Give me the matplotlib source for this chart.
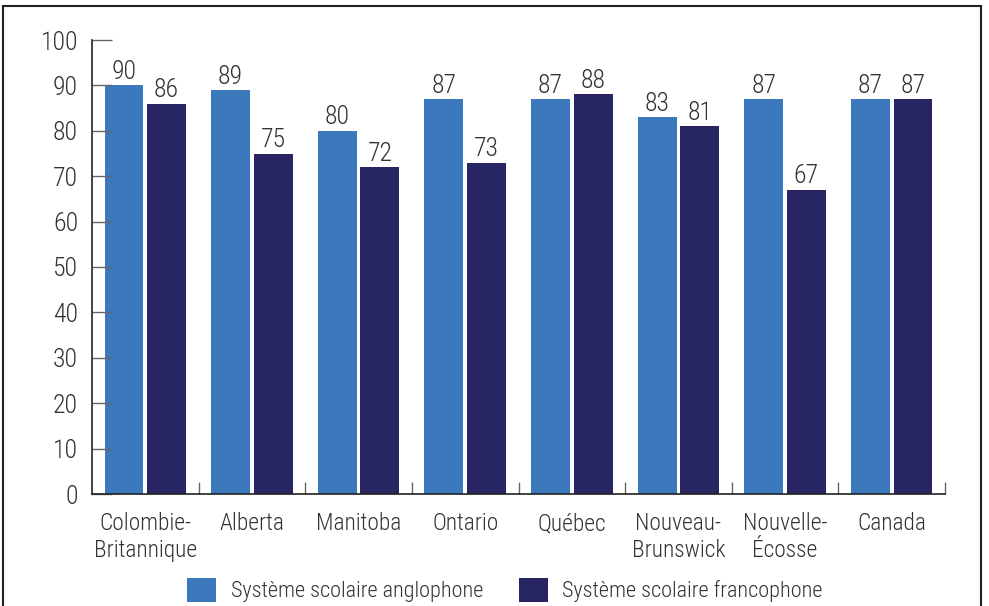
import numpy as np
import matplotlib.pyplot as plt
from matplotlib.patches import Rectangle

provinces = ["Colombie-\nBritannique", "Alberta", "Manitoba", "Ontario", "Québec",
             "Nouveau-\nBrunswick", "Nouvelle-\nÉcosse", "Canada"]
anglophone = [90, 89, 80, 87, 87, 83, 87, 87]
francophone = [86, 75, 72, 73, 88, 81, 67, 87]
series_names = ["Système scolaire anglophone", "Système scolaire francophone"]

plt.rcParams['font.family'] = ['Roboto Condensed', 'DejaVu Sans']
plt.rcParams['font.weight'] = 'light'
txt = '#333333'
c_light = '#3C78BC'
c_dark = '#272663'

fig = plt.figure(figsize=(9.89, 6.06), dpi=100)
ax = fig.add_axes([92/989, 112/606, (945-92)/989, (494-40)/606])

x = np.arange(len(provinces)) + 0.5
w = 0.365
b1 = ax.bar(x - 0.2, anglophone, w, color=c_light, label=series_names[0])
b2 = ax.bar(x + 0.2, francophone, w, color=c_dark, label=series_names[1])
for bars in (b1, b2):
    ax.bar_label(bars, padding=1, fontsize=18.5, color=txt)

ax.set_xlim(0, len(provinces))
ax.set_ylim(0, 100)
ax.set_yticks(range(0, 101, 10))
ax.tick_params(axis='y', direction='in', length=14.5, width=1, color='#666666',
               labelsize=18.5, labelcolor=txt, pad=10)

ax.set_xticks(np.arange(1, len(provinces) + 1))
ax.set_xticklabels([])
ax.set_xticks(x, minor=True)
ax.set_xticklabels(provinces, minor=True, fontsize=16.8, color=txt, linespacing=1.2)
ax.tick_params(axis='x', which='major', direction='in', length=9, width=1, color='#666666')
ax.tick_params(axis='x', which='minor', length=0, pad=13)

for s in ['top', 'right']:
    ax.spines[s].set_visible(False)
for s in ['left', 'bottom']:
    ax.spines[s].set_color('#222222')
    ax.spines[s].set_linewidth(1.2)

fig.legend(handles=[b1, b2], loc='center', bbox_to_anchor=(505/989, 16/606), ncol=2,
           frameon=False, fontsize=16, handlelength=1.3, handleheight=1.3,
           columnspacing=1.6, handletextpad=0.65, labelcolor=txt)

fig.patches.append(Rectangle((3/989, -0.05), (981-3)/989, 1.05 - 6/606, transform=fig.transFigure,
                             fill=False, edgecolor='#222222', linewidth=1.5))

fig.savefig('out.png', dpi=100)
